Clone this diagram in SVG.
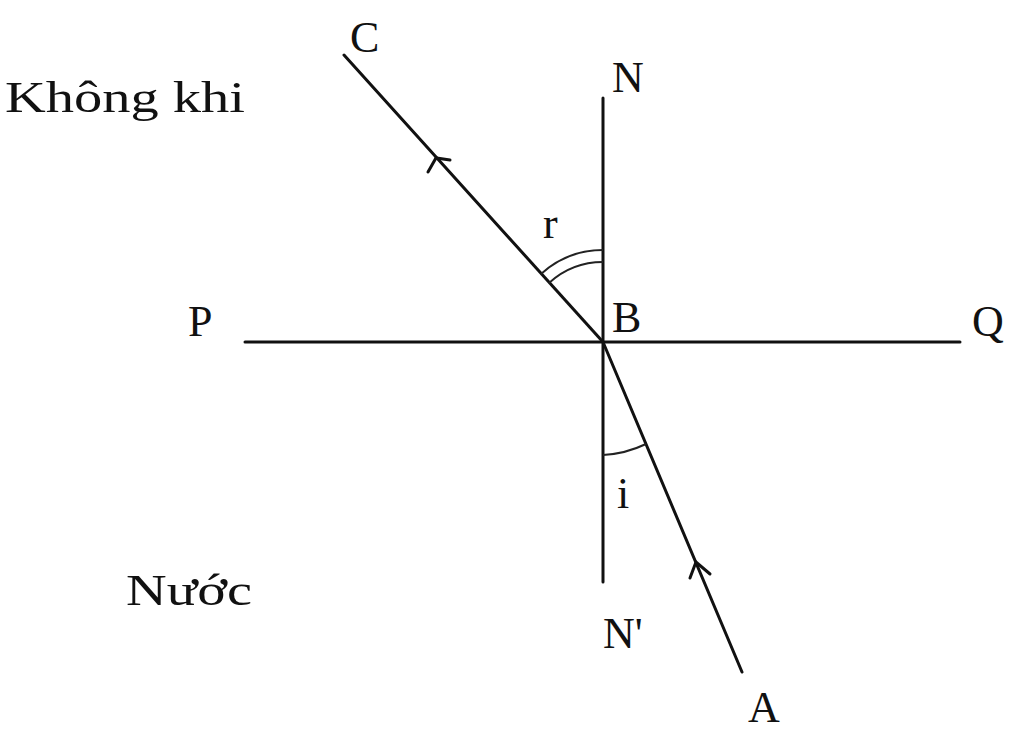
<svg xmlns="http://www.w3.org/2000/svg" width="1024" height="735" viewBox="0 0 1024 735">
<style>
.ln{stroke:#111;stroke-width:3;fill:none;stroke-linecap:round}
.th{stroke:#222;stroke-width:2;fill:none}
.t{font-family:"Liberation Serif",serif;font-size:44px;fill:#111}
</style>
<rect width="1024" height="735" fill="#fff"/>
<g id="connectors">
<line class="ln" x1="245" y1="342" x2="960" y2="342"/>
<line class="ln" x1="603" y1="98" x2="603" y2="582"/>
<line class="ln" x1="344" y1="55" x2="603" y2="342"/>
<line class="ln" x1="603" y1="342" x2="742" y2="672"/>
<path class="ln" d="M428 172 L436 158 L450 160"/>
<path class="ln" d="M690 578 L696 562 L710 574"/>
<path class="th" d="M541 274 A92 92 0 0 1 603 250"/>
<path class="th" d="M549 283 A80 80 0 0 1 603 262"/>
<path class="th" d="M603 455 A113 113 0 0 0 646 444"/>
</g>
<g id="labels">
<text class="t" x="350" y="52">C</text>
<text class="t" x="612" y="92">N</text>
<text class="t" x="5" y="112" textLength="240" lengthAdjust="spacingAndGlyphs">Không khi</text>
<text class="t" x="543" y="238">r</text>
<text class="t" x="612" y="332">B</text>
<text class="t" x="188" y="336">P</text>
<text class="t" x="972" y="336">Q</text>
<text class="t" x="617" y="508">i</text>
<text class="t" x="126" y="605" textLength="126" lengthAdjust="spacingAndGlyphs">Nước</text>
<text class="t" x="603" y="648">N'</text>
<text class="t" x="748" y="722">A</text>
</g>
</svg>
